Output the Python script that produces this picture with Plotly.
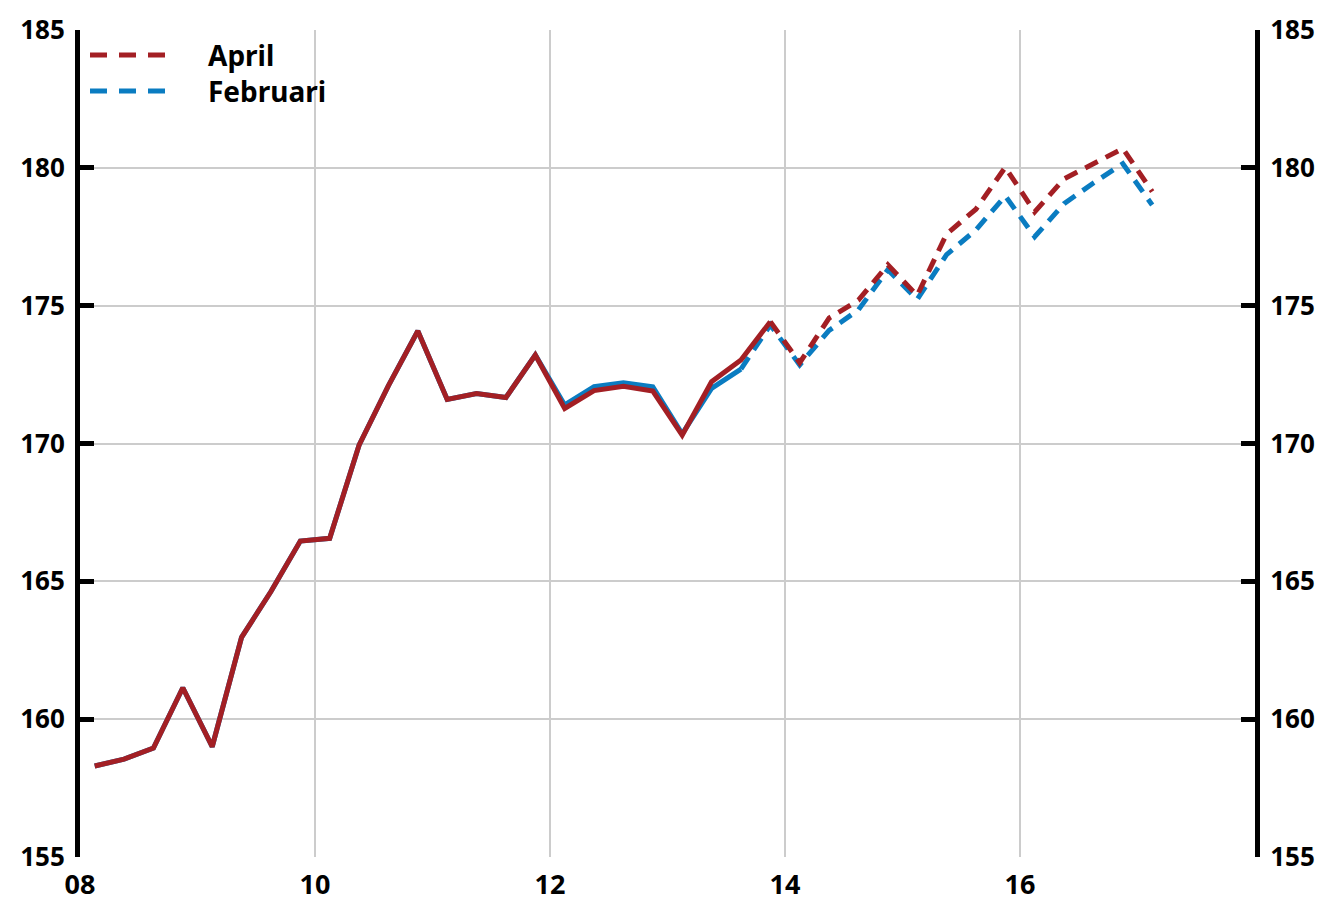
import plotly.graph_objects as go

# ---- data ----
# quarterly labels 2008Q1 .. 2017Q1
quarter_labels = [f"{y}Q{q}" for y in range(2008, 2018) for q in range(1, 5)][:37]

april = [
    158.3, 158.55, 158.95, 161.14,
    159.0, 162.97, 164.63, 166.46,
    166.56, 169.94, 172.10, 174.08,
    171.60, 171.81, 171.67, 173.21,
    171.27, 171.92, 172.08, 171.90,
    170.30, 172.24, 173.03, 174.42,
    172.93, 174.55, 175.20, 176.48,
    175.37, 177.60, 178.50, 180.02,
    178.40, 179.60, 180.15, 180.70,
    179.14,
]
februari = [
    158.3, 158.55, 158.95, 161.14,
    159.0, 162.97, 164.63, 166.46,
    166.56, 169.94, 172.10, 174.08,
    171.60, 171.81, 171.67, 173.21,
    171.40, 172.06, 172.20, 172.06,
    170.35, 172.00, 172.70, 174.30,
    172.85, 174.10, 174.85, 176.30,
    175.23, 176.85, 177.75, 178.98,
    177.50, 178.70, 179.45, 180.15,
    178.65,
]
last_outcome_april = "2013Q4"
last_outcome_februari = "2013Q3"

x_tick_vals = [2008, 2010, 2012, 2014, 2016]
x_tick_text = ["08", "10", "12", "14", "16"]
y_ticks = [155, 160, 165, 170, 175, 180, 185]

RED = "#A31F24"
BLUE = "#0A7CC1"
FONT = "Noto Sans"


def qx(label):
    y, q = label.split("Q")
    return int(y) + (int(q) - 0.5) / 4


xs = [qx(l) for l in quarter_labels]
ia = quarter_labels.index(last_outcome_april)
ib = quarter_labels.index(last_outcome_februari)

fig = go.Figure()
# Februari (below)
fig.add_trace(go.Scatter(x=xs[:ib + 1], y=februari[:ib + 1], mode="lines",
                         line=dict(color=BLUE, width=5), showlegend=False))
fig.add_trace(go.Scatter(x=xs[ib:], y=februari[ib:], mode="lines",
                         line=dict(color=BLUE, width=5, dash="14px,9px"), showlegend=False))
# April (on top)
fig.add_trace(go.Scatter(x=xs[:ia + 1], y=april[:ia + 1], mode="lines",
                         line=dict(color=RED, width=5), showlegend=False))
fig.add_trace(go.Scatter(x=xs[ia:], y=april[ia:], mode="lines",
                         line=dict(color=RED, width=5, dash="14px,9px"), showlegend=False))
# empty trace so the right-hand axis is drawn
fig.add_trace(go.Scatter(x=[], y=[], yaxis="y2", showlegend=False, hoverinfo="skip"))

# page body has an 8px margin, so figure coords = page coords - 8
W, H = 1311, 894
L, T = 72, 22
pw, ph = 1175, 827
R, B = W - L - pw, H - T - ph


def px2x(p):  # page px -> paper
    return (p - 8 - L) / pw


def px2y(p):
    return (T + ph - (p - 8)) / ph


# manual legend
legend_items = [("April", RED, 55), ("Februari", BLUE, 91)]
shapes = []
annotations = []
for name, col, py in legend_items:
    shapes.append(dict(type="line", xref="paper", yref="paper",
                       x0=px2x(90), x1=px2x(166), y0=px2y(py), y1=px2y(py),
                       line=dict(color=col, width=5, dash="17px,12px")))
    annotations.append(dict(text=name, xref="paper", yref="paper",
                            x=px2x(206), y=px2y(py), xanchor="left", yanchor="middle",
                            showarrow=False,
                            font=dict(family=FONT, size=28, color="black", weight="bold")))

axis_font = dict(family=FONT, size=26, color="black", weight="bold")

yaxis_common = dict(range=[155, 185], tickvals=y_ticks, zeroline=False,
                    showline=True, linecolor="black", linewidth=5,
                    ticks="inside", ticklen=14, tickwidth=5, tickcolor="black",
                    tickfont=axis_font, automargin=False,
                    ticklabeloverflow="allow", ticklabelstandoff=5)

fig.update_layout(
    width=W, height=H,
    margin=dict(l=L, r=R, t=T, b=B),
    plot_bgcolor="white", paper_bgcolor="white",
    shapes=shapes, annotations=annotations,
    xaxis=dict(range=[2008, 2018], tickvals=x_tick_vals, ticktext=x_tick_text,
               showgrid=True, gridcolor="#cccccc", gridwidth=2,
               showline=False, zeroline=False, ticks="",
               tickfont=dict(family=FONT, size=27, color="black", weight="bold"),
               automargin=False,
               ticklabeloverflow="allow", ticklabelstandoff=9),
    yaxis=dict(showgrid=True, gridcolor="#cccccc", gridwidth=2, **yaxis_common),
    yaxis2=dict(overlaying="y", side="right", showgrid=False, **yaxis_common),
)

fig.write_html("out.html")
